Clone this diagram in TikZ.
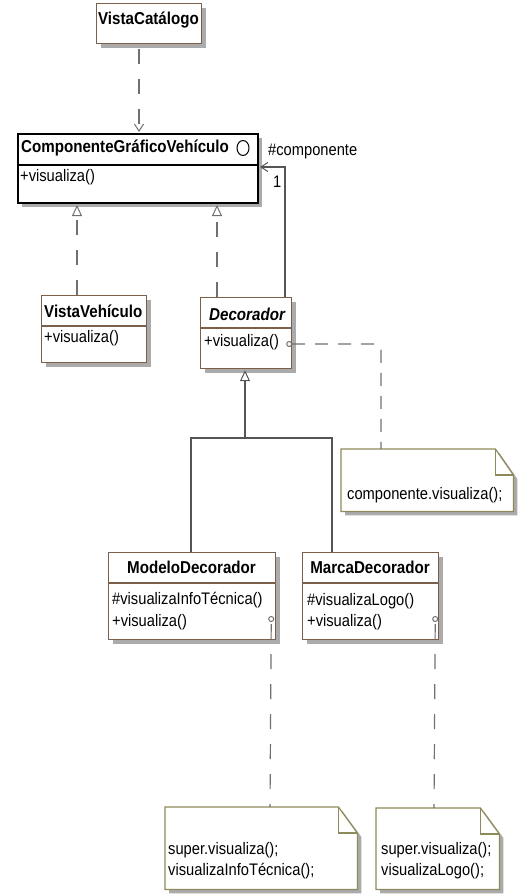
\documentclass[tikz,border=0pt]{standalone}
\usepackage{fontspec}
\setmainfont{Liberation Sans}[FakeStretch=0.88]
\usetikzlibrary{arrows.meta,calc,shadows}
\definecolor{clsborder}{HTML}{7A5F4A}
\definecolor{noteborder}{HTML}{8F8A5C}
\definecolor{shadowc}{HTML}{ABABAB}
\definecolor{linec}{HTML}{555555}
\definecolor{dashc}{HTML}{707070}
\begin{document}
\begin{tikzpicture}[x=1pt,y=-1pt,
  txt/.style={inner sep=0pt,font=\fontsize{16.7}{21}\selectfont,align=left},
  ttl/.style={inner sep=0pt,font=\fontsize{17.2}{19}\selectfont\bfseries},
  ttli/.style={inner sep=0pt,font=\fontsize{17.2}{19}\selectfont\bfseries\itshape},
  shad/.style={general shadow={fill=shadowc,shadow xshift=4pt,shadow yshift=-4pt}},
  clsbox/.style={rectangle,draw=clsborder,line width=1.2pt,fill=white,shad,anchor=north west,inner sep=0pt},
  mainbox/.style={rectangle,draw=black,line width=2pt,fill=white,shad,anchor=north west,inner sep=0pt},
  sepline/.style={draw=clsborder,line width=1.2pt},
  notearea/.style={rectangle,anchor=north west,inner sep=0pt},
  noteshape/.style={draw=noteborder,line width=1.2pt,fill=white,shad,line join=miter},
  foldline/.style={draw=noteborder,line width=1.2pt},
  dashln/.style={draw=dashc,line width=1.2pt,dash pattern=on 15pt off 15pt},
  solidln/.style={draw=linec,line width=1.2pt},
  vee/.style={-{Straight Barb[length=7pt,width=9pt,line width=1pt]}},
  tri/.style={-{Triangle[length=11pt,width=10pt,fill=white,line width=1pt]}},
  anchorcirc/.style={draw=dashc,line width=1pt,fill=white}
]
\useasboundingbox (0,0) rectangle (525,896);

% ---------- class boxes ----------
\node[clsbox,minimum width=105pt,minimum height=40pt] (vc) at (96,3) {};
\node[ttl] (vct) at (148.5,20) {VistaCatálogo};

\node[mainbox,minimum width=240pt,minimum height=69pt] (cgv) at (17,133) {};
\draw[black,line width=1.5pt] ($(cgv.north west)+(0,32)$) -- ($(cgv.north east)+(0,32)$);
\node[ttl,anchor=west] (cgvt) at (21,148) {ComponenteGráficoVehículo};
\draw[black,line width=1pt] (243,148) ellipse[x radius=6pt,y radius=7.5pt];
\node[txt,anchor=west] (cgvm) at (20,177) {+visualiza()};

\node[clsbox,minimum width=105pt,minimum height=67pt] (vv) at (41,295) {};
\draw[sepline] ($(vv.north west)+(0,31)$) -- ($(vv.north east)+(0,31)$);
\node[ttl,anchor=west] (vvt) at (44,311) {VistaVehículo};
\node[txt,anchor=west] (vvm) at (44,338) {+visualiza()};

\node[clsbox,minimum width=91pt,minimum height=71pt] (dec) at (200,297) {};
\draw[sepline] ($(dec.north west)+(0,31)$) -- ($(dec.north east)+(0,31)$);
\node[ttli,anchor=west] (dect) at (209,314) {Decorador};
\node[txt,anchor=west] (decm) at (204,342) {+visualiza()};

\node[clsbox,minimum width=167pt,minimum height=87pt] (md) at (108,552) {};
\draw[sepline] ($(md.north west)+(0,31)$) -- ($(md.north east)+(0,31)$);
\node[ttl] (mdt) at (191.5,567) {ModeloDecorador};
\node[txt,anchor=west] (mdm1) at (112,600) {\#visualizaInfoTécnica()};
\node[txt,anchor=west] (mdm2) at (112,622) {+visualiza()};

\node[clsbox,minimum width=136pt,minimum height=87pt] (mk) at (302,552) {};
\draw[sepline] ($(mk.north west)+(0,31)$) -- ($(mk.north east)+(0,31)$);
\node[ttl] (mkt) at (370,567) {MarcaDecorador};
\node[txt,anchor=west] (mkm1) at (307,601) {\#visualizaLogo()};
\node[txt,anchor=west] (mkm2) at (307,622) {+visualiza()};

% ---------- notes ----------
\node[notearea,minimum width=172pt,minimum height=62pt] (n1) at (341,449) {};
\path[noteshape] (n1.north west) -- ($(n1.north east)+(-18,0)$) -- ($(n1.north east)+(0,26)$) -- (n1.south east) -- (n1.south west) -- cycle;
\draw[foldline] ($(n1.north east)+(-18,0)$) -- ++(0,26) -- ++(18,0);
\node[txt,anchor=west] (n1t) at (347,495) {componente.visualiza();};

\node[notearea,minimum width=192pt,minimum height=82pt] (n2) at (165,807) {};
\path[noteshape] (n2.north west) -- ($(n2.north east)+(-19,0)$) -- ($(n2.north east)+(0,26)$) -- (n2.south east) -- (n2.south west) -- cycle;
\draw[foldline] ($(n2.north east)+(-19,0)$) -- ++(0,26) -- ++(19,0);
\node[txt,anchor=west] (n2t) at (168,860.5) {super.visualiza();\\visualizaInfoTécnica();};

\node[notearea,minimum width=123pt,minimum height=81pt] (n3) at (376,808) {};
\path[noteshape] (n3.north west) -- ($(n3.north east)+(-19,0)$) -- ($(n3.north east)+(0,26)$) -- (n3.south east) -- (n3.south west) -- cycle;
\draw[foldline] ($(n3.north east)+(-19,0)$) -- ++(0,26) -- ++(19,0);
\node[txt,anchor=west] (n3t) at (381,860.5) {super.visualiza();\\visualizaLogo();};

% ---------- connectors ----------
% dependency
\draw[dashln,vee,dash phase=-5pt] ($(vc.south west)+(43,0)$) -- ($(cgv.north west)+(122,-1)$);
% realizations
\draw[dashln,tri] ($(vv.north west)+(36,0)$) -- ($(cgv.south west)+(60,1)$);
\draw[dashln,tri] ($(dec.north west)+(17,0)$) -- ($(cgv.south west)+(200,1)$);
% association
\draw[solidln,vee] ($(dec.north west)+(85,0)$) |- ($(cgv.north east)+(1,34)$);
\node[txt,anchor=west] (rolelbl) at (268,152) {\#componente};
\node[txt,anchor=west] (multlbl) at (273,182) {1};
% inheritance
\coordinate (junc) at ($(dec.south west)+(45,70)$);
\draw[solidln,tri] (junc) -- ($(dec.south west)+(45,1)$);
\draw[solidln] ($(md.north west)+(83,0)$) |- ($(mk.north west)+(30,-114)$) -- ($(mk.north west)+(30,0)$);
% note links
\draw[dashln,rounded corners=6pt,dash pattern=on 13pt off 10pt] ($(dec.north east)+(0,47)$) -- ($(n1.north west)+(40,-47-58)$) -- ($(n1.north west)+(40,0)$);
\draw[anchorcirc] ($(dec.north east)+(-3,47)$) circle[radius=2.5pt];
\draw[dashln,dash phase=-1pt] ($(md.north east)+(-5,71)$) -- ($(n2.north west)+(105,0)$);
\draw[anchorcirc] ($(md.north east)+(-5,67)$) circle[radius=2.5pt];
\draw[dashln,dash phase=-1pt] ($(mk.north east)+(-4,71)$) -- ($(n3.north west)+(58,0)$);
\draw[anchorcirc] ($(mk.north east)+(-4,67)$) circle[radius=2.5pt];
\end{tikzpicture}
\end{document}
